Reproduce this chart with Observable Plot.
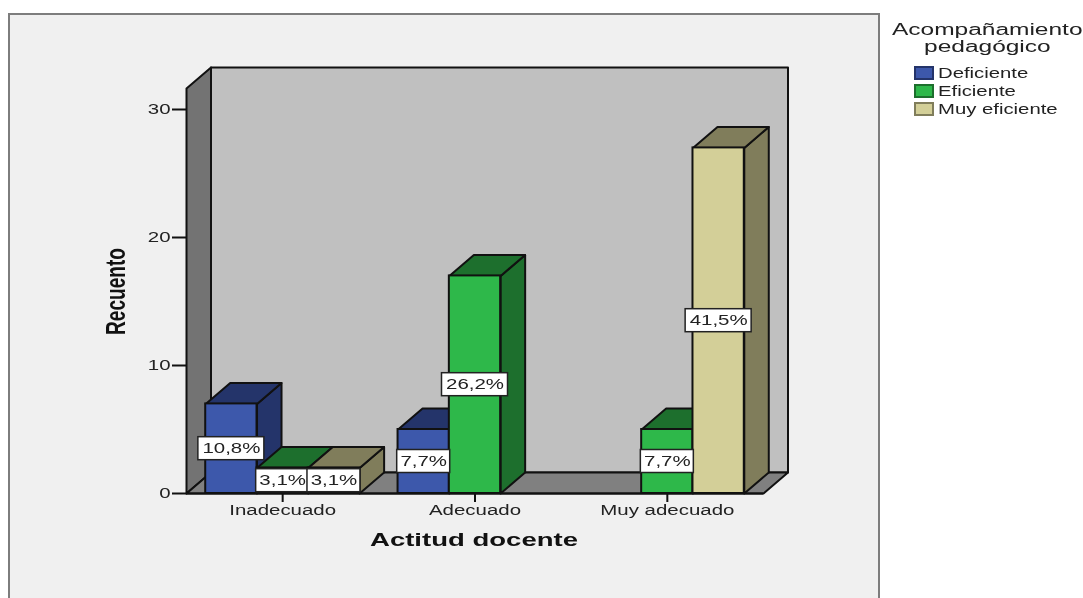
<!DOCTYPE html>
<html lang="es">
<head>
<meta charset="utf-8">
<script src="https://cdn.jsdelivr.net/npm/d3@7"></script>
<script src="https://cdn.jsdelivr.net/npm/@observablehq/plot@0.6"></script>
<style>
html,body{margin:0;padding:0;background:#fff;width:1083px;height:598px;overflow:hidden;font-family:"Liberation Sans",Arial,sans-serif;color:#222}
#panel{position:absolute;left:8px;top:13px;width:868px;height:600px;background:#f0f0f0;border:2px solid #7d7d7d;box-sizing:content-box}
#chart{position:absolute;left:0;top:0;filter:blur(0.4px)}
#legend{filter:blur(0.4px)}
.lg{position:absolute;white-space:nowrap;line-height:1}
.sw{position:absolute;left:914px;width:16px;height:10px;border:2px solid}
</style>
</head>
<body>
<div id="panel"></div>
<div id="chart"></div>
<div id="legend"></div>
<script>
const categories = ["Inadecuado", "Adecuado", "Muy adecuado"];
const series = ["Deficiente", "Eficiente", "Muy eficiente"];
const counts = [
  [7, 2, 2],
  [5, 17, 0],
  [0, 5, 27]
];
const percents = [
  ["10,8%", "3,1%", "3,1%"],
  ["7,7%", "26,2%", ""],
  ["", "7,7%", "41,5%"]
];
const yTicks = [0, 10, 20, 30];
const frontColors = ["#3d58ab", "#2eb84a", "#d3cf98"];
const darkColors = ["#24346a", "#1d6f2d", "#807d5b"];
const edge = "#111";

// scale sizes in pixels per data unit: used to express the oblique depth in data units
const pxX = 577 / 3, pxY = 384 / 30;
const dx = 24.5 / pxX, dy = 21 / pxY;
const barW = 51.3 / pxX;
const yTopFront = 405 / pxY;

const poly = (pts, fill) => Plot.line(pts, {
  x: d => d[0], y: d => d[1], fill, stroke: edge, strokeWidth: 2, strokeLinejoin: "round"
});

const bars = counts.flatMap((row, i) => row.map((v, j) => ({
  cat: categories[i], ser: series[j], v, j,
  x1: i + 0.5 + (j - 1.5) * barW,
  x2: i + 0.5 + (j - 0.5) * barW,
  label: percents[i][j]
}))).filter(d => d.v > 0);

const marks = [
  poly([[0,0],[dx,dy],[dx,yTopFront+dy],[0,yTopFront],[0,0]], "#737373"),
  poly([[dx,dy],[3+dx,dy],[3+dx,yTopFront+dy],[dx,yTopFront+dy],[dx,dy]], "#c0c0c0"),
  poly([[0,0],[3,0],[3+dx,dy],[dx,dy],[0,0]], "#808080")
];
for (const b of bars) {
  marks.push(poly([[b.x2,0],[b.x2+dx,dy],[b.x2+dx,b.v+dy],[b.x2,b.v],[b.x2,0]], darkColors[b.j]));
  marks.push(poly([[b.x1,b.v],[b.x1+dx,b.v+dy],[b.x2+dx,b.v+dy],[b.x2,b.v],[b.x1,b.v]], darkColors[b.j]));
  marks.push(Plot.rect([b], {x1:"x1", x2:"x2", y1:0, y2:"v", fill:frontColors[b.j], stroke:edge, strokeWidth:2}));
}
const boxW = d => (d.label.length > 4 ? 66 : 53) / pxX;
const boxH = 23 / pxY;
marks.push(
  Plot.axisY({ticks:yTicks, tickSize:14, tickPadding:2, fontSize:14, label:null, stroke:"#111", strokeWidth:2, tickFormat:d=>String(d)}),
  Plot.axisX({ticks:[0.5,1.5,2.5], tickSize:9, tickPadding:3, fontSize:14, label:null, stroke:"#111", strokeWidth:2, tickFormat:d=>categories[d-0.5]}),
  Plot.ruleY([0], {stroke:"#111", strokeWidth:2}),
  Plot.rect(bars, {
    x1:d=>(d.x1+d.x2)/2-boxW(d)/2, x2:d=>(d.x1+d.x2)/2+boxW(d)/2,
    y1:d=>d.v/2-boxH/2, y2:d=>d.v/2+boxH/2,
    fill:"#fff", stroke:"#222", strokeWidth:1.5
  }),
  Plot.text(bars, {x:d=>(d.x1+d.x2)/2, y:d=>d.v/2, text:"label", fontSize:14, fill:"#222"}),
  Plot.text(["Actitud docente"], {frameAnchor:"bottom", dy:52, dx:-1, fontSize:18, fontWeight:"bold", fill:"#111", className:"xt"}),
  Plot.text(["Recuento"], {frameAnchor:"left", textAnchor:"middle", rotate:-90, dx:-70, dy:-10, fontSize:28, fontWeight:"bold", fill:"#111", className:"yt"})
);

const plot = Plot.plot({
  width:1083, height:598,
  marginLeft:186, marginRight:320, marginTop:109, marginBottom:105,
  x:{domain:[0,3]}, y:{domain:[0,30]},
  style:{background:"transparent", fontFamily:"'Liberation Sans',Arial,sans-serif", color:"#222", overflow:"visible"},
  marks
});
document.getElementById("chart").append(plot);

plot.querySelectorAll("text").forEach(t => {
  const g = t.closest(".xt,.yt");
  const isX = g && g.classList.contains("xt");
  const natural = t.getComputedTextLength();
  const target = isX ? 208 : g ? 87 : natural * 1.46;
  t.setAttribute("lengthAdjust","spacingAndGlyphs");
  t.setAttribute("textLength", target);
});

// legend
const legend = document.getElementById("legend");
const addText = (s, left, top, size, k, origin) => {
  const e = document.createElement("div");
  e.className = "lg"; e.textContent = s;
  e.style.cssText = `left:${left}px;top:${top}px;font-size:${size}px;transform:scaleX(${k});transform-origin:${origin}`;
  legend.append(e); return e;
};
const ctr = (e,c) => { e.style.left = (c - e.offsetWidth/2) + "px"; };
ctr(addText("Acompañamiento", 0, 22, 16, 1.53, "center"), 987);
ctr(addText("pedagógico", 0, 39, 16, 1.53, "center"), 987);
[66, 84, 102].forEach((top, j) => {
  const s = document.createElement("div");
  s.className = "sw";
  s.style.cssText = `top:${top}px;background:${frontColors[j]};border-color:${darkColors[j]}`;
  legend.append(s);
  addText(series[j], 938, top, 14, 1.45, "left");
});
</script>
</body>
</html>
